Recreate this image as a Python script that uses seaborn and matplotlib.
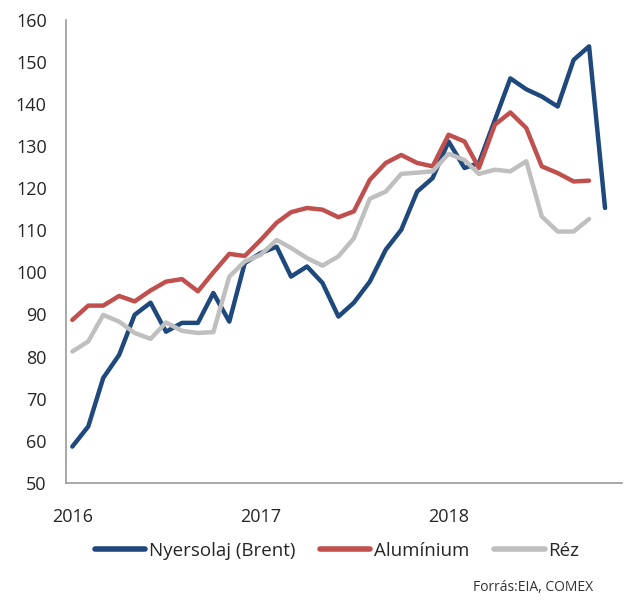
import numpy as np
import pandas as pd
import seaborn as sns
import matplotlib.pyplot as plt
import matplotlib.dates as mdates

# monthly indices, Jan 2016 - Nov 2018
months = pd.date_range("2016-01-01", periods=35, freq="MS")

brent = [58.6, 63.4, 74.9, 80.4, 89.9, 92.8, 85.9, 88.0, 88.0, 95.1, 88.3, 102.2,
         104.6, 106.1, 99.0, 101.4, 97.5, 89.5, 92.8, 97.8, 105.4, 110.1, 119.2, 122.4,
         131.1, 124.8, 126.0, 136.2, 146.1, 143.5, 141.8, 139.4, 150.5, 153.7, 115.3]
aluminium = [88.7, 92.1, 92.1, 94.4, 93.1, 95.7, 97.8, 98.4, 95.5, 100.0, 104.4, 103.9,
             107.7, 111.8, 114.3, 115.3, 114.9, 113.1, 114.5, 122.0, 126.0, 127.9, 126.0, 125.2,
             132.7, 131.1, 124.8, 135.1, 138.0, 134.3, 125.2, 123.6, 121.6, 121.8, np.nan]
copper = [81.2, 83.6, 89.9, 88.3, 85.6, 84.2, 88.1, 86.1, 85.6, 85.8, 99.0, 102.6,
          104.2, 107.7, 105.8, 103.4, 101.6, 103.8, 108.1, 117.5, 119.2, 123.4, 123.7, 124.0,
          128.2, 126.7, 123.4, 124.4, 124.0, 126.4, 113.3, 109.7, 109.7, 112.7, np.nan]

labels = ["Nyersolaj (Brent)", "Alumínium", "Réz"]
colors = ["#1F497D", "#C0504D", "#BFBFBF"]

df = pd.DataFrame({"date": months, labels[0]: brent, labels[1]: aluminium, labels[2]: copper})
long = df.melt(id_vars="date", var_name="series", value_name="value")

sns.set_style("white")
plt.rcParams["font.family"] = ["Open Sans", "DejaVu Sans"]

fig = plt.figure(figsize=(6.24, 6.02), dpi=100)
ax = fig.add_axes([0.106, 0.198, 0.89, 0.769])

sns.lineplot(data=long, x="date", y="value", hue="series", hue_order=labels,
             palette=colors, linewidth=3.2, ax=ax, legend=False)

ax.set_ylim(50, 160)
ax.set_yticks(range(50, 161, 10))
ax.set_xlim(pd.Timestamp("2015-12-20"), pd.Timestamp("2018-12-03"))
ax.xaxis.set_major_locator(mdates.YearLocator())
ax.xaxis.set_major_formatter(mdates.DateFormatter("%Y"))
ax.set_xlabel("")
ax.set_ylabel("")
ax.tick_params(axis="both", length=0, labelsize=13, colors="#262626")
ax.tick_params(axis="y", pad=14)
ax.tick_params(axis="x", pad=18)

for s in ["top", "right"]:
    ax.spines[s].set_visible(False)
for s in ["left", "bottom"]:
    ax.spines[s].set_color("#999999")
    ax.spines[s].set_linewidth(1.2)

handles = [plt.Line2D([], [], color=c, lw=4, solid_capstyle="round") for c in colors]
fig.legend(handles, labels, loc="center", bbox_to_anchor=(0.54, 0.085), ncol=3,
           frameon=False, fontsize=13.5, handlelength=2.7, handletextpad=0.2,
           columnspacing=1.3)

fig.text(0.95, 0.012, "Forrás:EIA, COMEX", ha="right", va="bottom", fontsize=10, color="#333333")

fig.savefig("out.png", dpi=100)
